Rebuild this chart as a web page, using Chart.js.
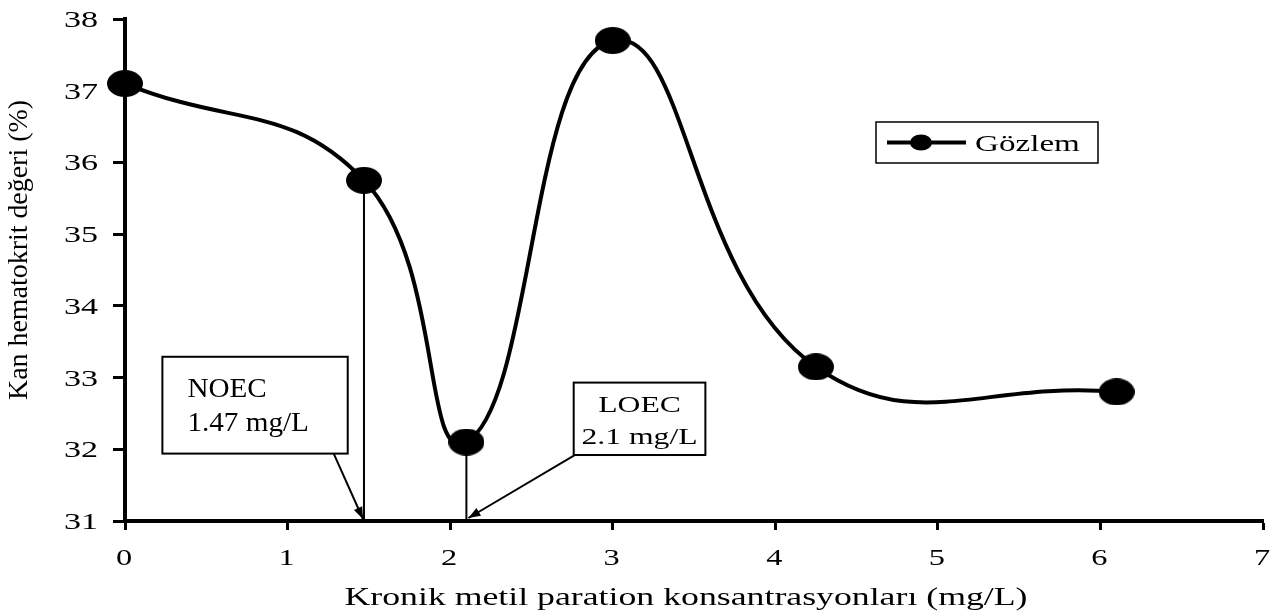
<!DOCTYPE html>
<html><head><meta charset="utf-8">
<script src="https://cdn.jsdelivr.net/npm/chart.js@4/dist/chart.umd.min.js"></script>
<style>html,body{margin:0;padding:0;background:#fff}canvas{display:block}</style>
</head><body>
<canvas id="c" width="1282" height="615"></canvas>
<script>
const concentrations = [0, 1.47, 2.1, 3, 4.25, 6.1];
const hematocrit = [37.1, 35.75, 32.1, 37.7, 33.15, 32.8];
const seriesLabel = 'Gözlem';
const xTicks = [0, 1, 2, 3, 4, 5, 6, 7];
const yTicks = [31, 32, 33, 34, 35, 36, 37, 38];
const xTitle = 'Kronik metil paration konsantrasyonları (mg/L)';
const yTitle = 'Kan hematokrit değeri (%)';
const noec = {label: ['NOEC', '1.47 mg/L'], x: 1.47, y: 35.75};
const loec = {label: ['LOEC', '2.1 mg/L'], x: 2.1, y: 32.1};

const FONT = '"Liberation Serif", "Times New Roman", serif';

function ellipseSprite(w, h) {
  const c = document.createElement('canvas');
  c.width = w; c.height = h;
  const g = c.getContext('2d');
  g.fillStyle = '#000';
  g.beginPath(); g.ellipse(w / 2, h / 2, w / 2, h / 2, 0, 0, Math.PI * 2); g.fill();
  return c;
}
const marker = ellipseSprite(36, 27);

// draw text horizontally stretched by sx
function stretchedText(ctx, text, x, y, size, sx, align, baseline) {
  ctx.save();
  ctx.font = size + 'px ' + FONT;
  ctx.textBaseline = baseline || 'alphabetic';
  ctx.textAlign = 'left';
  const w = ctx.measureText(text).width * sx;
  let left = x;
  if (align === 'center') left = x - w / 2;
  else if (align === 'right') left = x - w;
  ctx.translate(left, y);
  ctx.scale(sx, 1);
  ctx.fillText(text, 0, 0);
  ctx.restore();
}

const textPlugin = {
  id: 'texts',
  afterDraw(chart) {
    const {ctx, scales: {x, y}} = chart;
    ctx.save();
    ctx.fillStyle = '#000';
    // y tick labels
    yTicks.forEach(v => stretchedText(ctx, String(v), 98, y.getPixelForValue(v) + 8, 24, 1.42, 'right'));
    // x tick labels
    xTicks.forEach(v => stretchedText(ctx, String(v), x.getPixelForValue(v) - 1, 565, 24, 1.35, 'center'));
    // x title
    stretchedText(ctx, xTitle, 686, 605, 25, 1.43, 'center');
    // y title (rotated)
    ctx.save();
    ctx.translate(27, 250);
    ctx.rotate(-Math.PI / 2);
    ctx.font = '21px ' + FONT;
    const natural = ctx.measureText(yTitle).width;
    const sx = 300 / natural;
    ctx.scale(sx, 1.3);
    ctx.textAlign = 'center';
    ctx.textBaseline = 'alphabetic';
    ctx.fillText(yTitle, 0, 0);
    ctx.restore();
    ctx.restore();
  }
};

const annotationPlugin = {
  id: 'annot',
  afterDatasetsDraw(chart) {
    const {ctx, scales: {x, y}} = chart;
    const yBase = y.getPixelForValue(yTicks[0]);
    ctx.save();
    ctx.strokeStyle = '#000';
    ctx.fillStyle = '#000';
    function arrow(x0, y0, x1, y1) {
      ctx.lineWidth = 2;
      ctx.beginPath(); ctx.moveTo(x0, y0); ctx.lineTo(x1, y1); ctx.stroke();
      const a = Math.atan2(y1 - y0, x1 - x0), L = 12, W = 4.5;
      ctx.beginPath();
      ctx.moveTo(x1, y1);
      ctx.lineTo(x1 - L * Math.cos(a) + W * Math.sin(a), y1 - L * Math.sin(a) - W * Math.cos(a));
      ctx.lineTo(x1 - L * Math.cos(a) - W * Math.sin(a), y1 - L * Math.sin(a) + W * Math.cos(a));
      ctx.closePath(); ctx.fill();
    }
    function box(bx0, by0, bx1, by1) {
      const px0 = x.getPixelForValue(bx0), px1 = x.getPixelForValue(bx1);
      const py0 = y.getPixelForValue(by0), py1 = y.getPixelForValue(by1);
      ctx.fillStyle = '#fff';
      ctx.fillRect(px0, py1, px1 - px0, py0 - py1);
      ctx.lineWidth = 2;
      ctx.strokeStyle = '#000';
      ctx.strokeRect(px0, py1, px1 - px0, py0 - py1);
      ctx.fillStyle = '#000';
      return {px0, px1, py0, py1};
    }
    // NOEC
    const b1 = box(0.23, 31.94, 1.37, 33.29);
    stretchedText(ctx, noec.label[0], b1.px0 + 25, b1.py1 + 40, 27, 1.08, 'left');
    stretchedText(ctx, noec.label[1], b1.px0 + 25, b1.py1 + 74, 27, 1.08, 'left');
    arrow(b1.px1 - 14, b1.py0, x.getPixelForValue(noec.x) - 1, yBase - 2);
    // LOEC
    const b2 = box(2.76, 31.92, 3.57, 32.93);
    const cx2 = (b2.px0 + b2.px1) / 2;
    stretchedText(ctx, loec.label[0], cx2, b2.py1 + 29, 24, 1.32, 'center');
    stretchedText(ctx, loec.label[1], cx2, b2.py1 + 61, 24, 1.32, 'center');
    arrow(b2.px0 + 1, b2.py0, x.getPixelForValue(loec.x) + 2, yBase - 3);

    // legend
    const lx0 = 876, ly0 = 122, lx1 = 1098, ly1 = 163;
    ctx.fillStyle = '#fff';
    ctx.fillRect(lx0, ly0, lx1 - lx0, ly1 - ly0);
    ctx.lineWidth = 1.5; ctx.strokeStyle = '#000';
    ctx.strokeRect(lx0, ly0, lx1 - lx0, ly1 - ly0);
    const my = (ly0 + ly1) / 2;
    ctx.lineWidth = 4;
    ctx.beginPath(); ctx.moveTo(887, my); ctx.lineTo(966, my); ctx.stroke();
    ctx.fillStyle = '#000';
    ctx.beginPath(); ctx.ellipse(921, my, 11, 8, 0, 0, Math.PI * 2); ctx.fill();
    stretchedText(ctx, chart.data.datasets[0].label, 975, my + 8, 24, 1.38, 'left');
    ctx.restore();
  }
};

const dropLines = [noec, loec].map(p => ({
  label: 'drop',
  data: [{x: p.x, y: p.y}, {x: p.x, y: yTicks[0]}],
  showLine: true,
  borderColor: '#000',
  borderWidth: 2,
  pointRadius: 0,
  tension: 0,
  order: 2
}));

new Chart(document.getElementById('c'), {
  type: 'scatter',
  data: {
    datasets: [{
      label: seriesLabel,
      data: concentrations.map((v, i) => ({x: v, y: hematocrit[i]})),
      showLine: true,
      borderColor: '#000',
      borderWidth: 4,
      backgroundColor: '#000',
      pointStyle: marker,
      pointRadius: 15,
      pointHoverRadius: 15,
      tension: 0.45,
      order: 1
    }, ...dropLines]
  },
  options: {
    responsive: false,
    devicePixelRatio: 1,
    animation: false,
    events: [],
    clip: false,
    layout: {padding: {top: 17, right: 16, left: 0, bottom: 0}},
    plugins: {legend: {display: false}, tooltip: {enabled: false}},
    scales: {
      x: {
        type: 'linear',
        min: xTicks[0], max: xTicks[xTicks.length - 1],
        afterBuildTicks(s) { s.ticks = xTicks.map(v => ({value: v})); },
        afterFit(s) { s.height = 94; },
        grid: {drawOnChartArea: false, drawTicks: true, tickLength: 9, tickWidth: 3, tickColor: '#000'},
        border: {display: true, color: '#000', width: 4},
        ticks: {display: false},
        title: {display: false, text: xTitle}
      },
      y: {
        type: 'linear',
        min: yTicks[0], max: yTicks[yTicks.length - 1],
        afterBuildTicks(s) { s.ticks = yTicks.map(v => ({value: v})); },
        afterFit(s) { s.width = 125; },
        grid: {drawOnChartArea: false, drawTicks: true, tickLength: 12, tickWidth: 3, tickColor: '#000'},
        border: {display: true, color: '#000', width: 4},
        ticks: {display: false},
        title: {display: false, text: yTitle}
      }
    }
  },
  plugins: [annotationPlugin, textPlugin]
});
</script>
</body></html>
